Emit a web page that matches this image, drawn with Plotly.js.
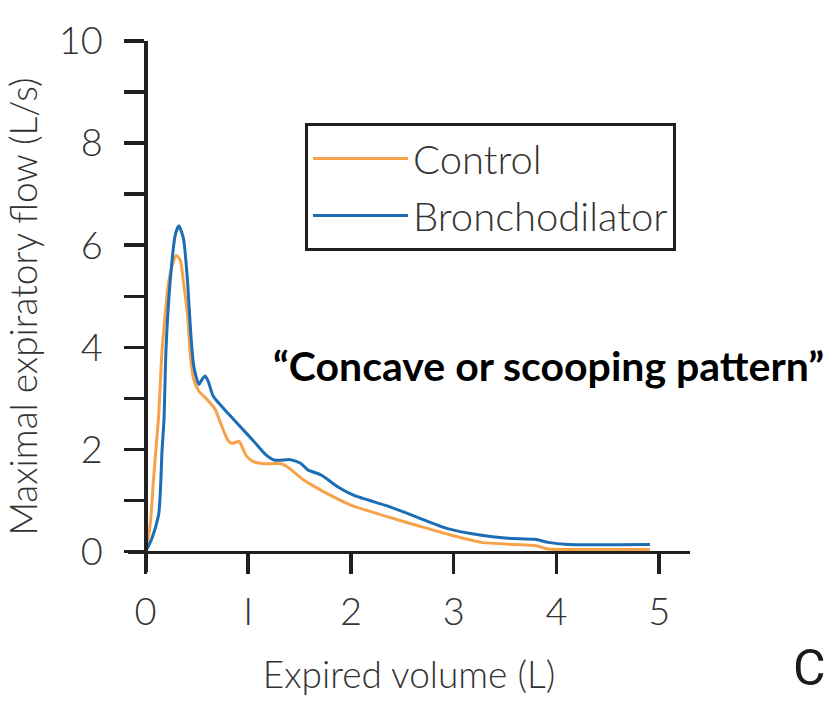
<!DOCTYPE html>
<html>
<head>
<meta charset="utf-8">
<script src="https://cdn.plot.ly/plotly-3.0.1.min.js"></script>
<style>
  html, body { margin: 0; padding: 0; background: #ffffff; }
  #chart { width: 832px; height: 725px; }
</style>
</head>
<body>
<div id="chart"></div>
<script>
// Expired volume (L) and maximal expiratory flow (L/s)
const controlVolume = [0, 0.03, 0.05, 0.08, 0.11, 0.13, 0.16, 0.19, 0.22, 0.26, 0.30, 0.34, 0.37, 0.41, 0.44, 0.47, 0.52, 0.60, 0.68, 0.73, 0.80, 0.84, 0.88, 0.91, 0.93, 0.98, 1.05, 1.15, 1.32, 1.38, 1.54, 1.71, 2.00, 2.36, 2.68, 2.96, 3.27, 3.59, 3.79, 3.92, 4.10, 4.91];
const controlFlow   = [0, 0.30, 0.61, 1.46, 2.20, 2.70, 3.90, 4.60, 5.20, 5.61, 5.80, 5.70, 5.28, 4.62, 3.77, 3.37, 3.14, 2.98, 2.78, 2.52, 2.19, 2.12, 2.14, 2.16, 2.10, 1.88, 1.76, 1.72, 1.72, 1.66, 1.40, 1.20, 0.91, 0.68, 0.49, 0.33, 0.18, 0.14, 0.12, 0.05, 0.04, 0.04];

const bronchVolume = [0, 0.04, 0.08, 0.13, 0.15, 0.16, 0.18, 0.20, 0.24, 0.29, 0.325, 0.37, 0.41, 0.44, 0.47, 0.52, 0.55, 0.58, 0.61, 0.66, 0.83, 0.99, 1.08, 1.17, 1.26, 1.41, 1.51, 1.58, 1.71, 1.87, 2.03, 2.36, 2.61, 2.94, 3.27, 3.53, 3.79, 3.92, 4.11, 4.91];
const bronchFlow   = [0, 0.15, 0.36, 0.75, 1.40, 1.93, 2.58, 3.96, 5.28, 6.20, 6.38, 6.13, 5.28, 4.30, 3.63, 3.27, 3.37, 3.44, 3.34, 3.04, 2.65, 2.30, 2.10, 1.90, 1.79, 1.80, 1.73, 1.60, 1.50, 1.27, 1.10, 0.89, 0.70, 0.45, 0.32, 0.26, 0.24, 0.18, 0.14, 0.14];

const seriesNames = ['Control', 'Bronchodilator'];
const xTickVals = [0, 1, 2, 3, 4, 5];
const xTickText = ['0', 'I', '2', '3', '4', '5'];
const yTickVals = [0, 2, 4, 6, 8, 10];

const axisColor = '#231f20';
const textColor = '#333333';
const baseFont = 'Lato, "Open Sans", sans-serif';

const traces = [
  {
    x: controlVolume, y: controlFlow, name: seriesNames[0], legendgroup: 'a',
    type: 'scatter', mode: 'lines',
    line: { color: '#F7A24B', width: 3, shape: 'spline', smoothing: 0.6 }
  },
  {
    x: bronchVolume, y: bronchFlow, name: seriesNames[1], legendgroup: 'b',
    type: 'scatter', mode: 'lines',
    line: { color: '#1C6DB5', width: 3, shape: 'spline', smoothing: 0.6 }
  }
];

const layout = {
  width: 832, height: 725,
  margin: { l: 128, r: 142, t: 41, b: 153 },
  paper_bgcolor: '#ffffff', plot_bgcolor: '#ffffff',
  font: { family: baseFont, color: textColor, size: 36, weight: 300 },
  showlegend: true,
  xaxis: {
    range: [-0.17, 5.30],
    anchor: 'free', position: 0.0385,
    showline: true, linecolor: axisColor, linewidth: 3.5,
    showgrid: false, zeroline: false,
    tickmode: 'array', tickvals: xTickVals, ticktext: xTickText,
    ticks: 'outside', ticklen: 20, tickwidth: 3.5, tickcolor: axisColor,
    ticklabelstandoff: 5,
    tickfont: { family: baseFont, size: 38, color: textColor, weight: 300 },
    title: { text: 'Expired volume (L)', font: { family: baseFont, size: 37, color: textColor, weight: 300 }, standoff: 30 }
  },
  yaxis: {
    range: [-0.40, 10],
    anchor: 'free', position: 0.0311,
    showline: true, linecolor: axisColor, linewidth: 3.5,
    showgrid: false, zeroline: false,
    tickmode: 'array', tickvals: yTickVals,
    ticks: 'outside', ticklen: 20, tickwidth: 3.5, tickcolor: axisColor,
    ticklabelstandoff: 14,
    minor: { dtick: 1, tick0: 0, ticks: 'outside', ticklen: 20, tickwidth: 3.5, tickcolor: axisColor, showgrid: false },
    tickfont: { family: baseFont, size: 38, color: textColor, weight: 300 },
    title: { text: 'Maximal expiratory flow (L/s)', font: { family: baseFont, size: 37, color: textColor, weight: 300 }, standoff: 16 }
  },
  legend: {
    x: 0.315, y: 0.8456, xanchor: 'left', yanchor: 'top',
    bgcolor: '#ffffff', bordercolor: axisColor, borderwidth: 3,
    font: { family: baseFont, size: 40, color: textColor, weight: 300 },
    itemwidth: 95, traceorder: 'grouped', tracegroupgap: 2
  },
  annotations: [
    {
      text: '\u201CConcave or scooping pattern\u201D',
      xref: 'paper', yref: 'paper', x: 0.748, y: 0.388,
      xanchor: 'center', yanchor: 'middle', showarrow: false,
      font: { family: baseFont, size: 41, color: '#000000', weight: 'bold' }
    },
    {
      text: 'C',
      xref: 'paper', yref: 'paper', x: 1.212, y: -0.181,
      xanchor: 'center', yanchor: 'middle', showarrow: false,
      font: { family: 'Roboto, sans-serif', size: 50, color: '#1a1a1a', weight: 'normal' }
    }
  ]
};

Plotly.newPlot('chart', traces, layout, { displayModeBar: false, staticPlot: true });
</script>
</body>
</html>
